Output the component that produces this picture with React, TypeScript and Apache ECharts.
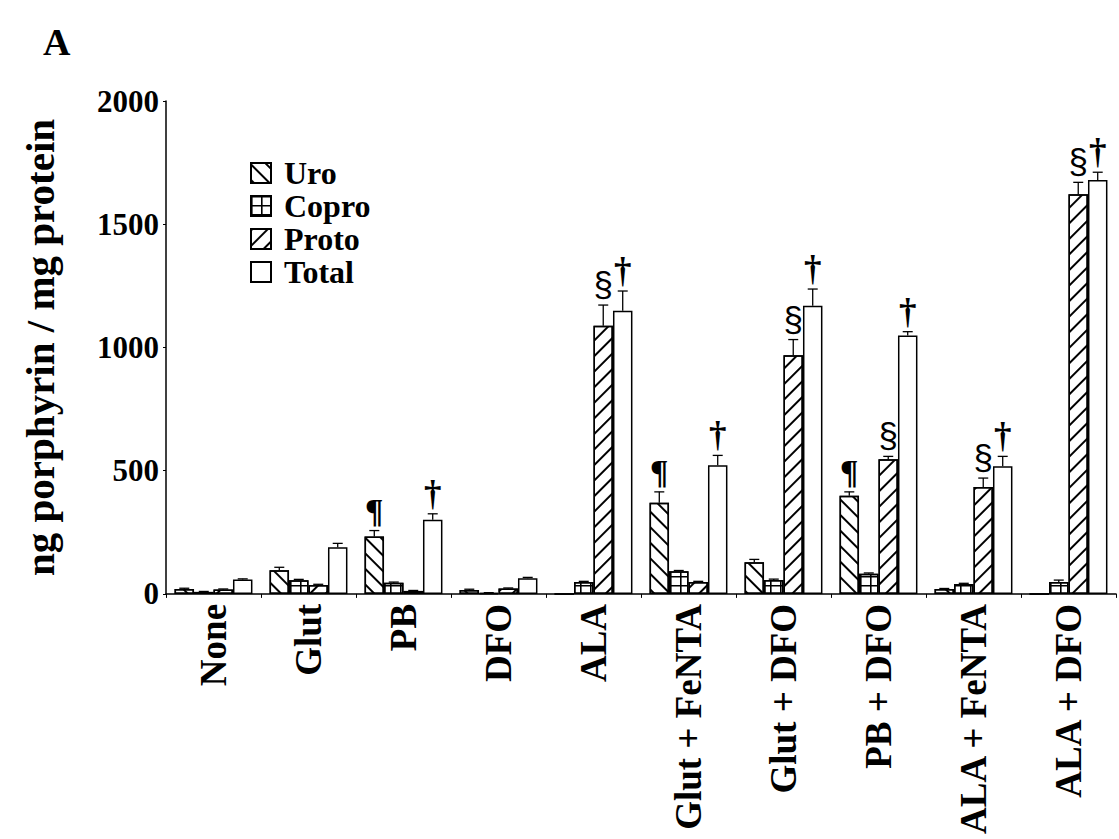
import React, { useEffect, useRef } from "react";
import * as echarts from "echarts";

const categories = [
  "None",
  "Glut",
  "PB",
  "DFO",
  "ALA",
  "Glut + FeNTA",
  "Glut + DFO",
  "PB + DFO",
  "ALA + FeNTA",
  "ALA + DFO",
];
const seriesNames = ["Uro", "Copro", "Proto", "Total"];

const uro = [20, 96, 233, 16, 0, 370, 128, 398, 20, 0];
const copro = [8, 55, 45, 4, 48, 92, 56, 82, 40, 48];
const proto = [18, 36, 12, 22, 1088, 48, 968, 546, 434, 1622];
const total = [58, 189, 301, 64, 1149, 522, 1169, 1048, 518, 1679];

const uroErr = [3, 12, 24, 3, 0, 44, 12, 16, 2, 0];
const coproErr = [2, 4, 3, 1, 3, 3, 4, 3, 3, 8];
const protoErr = [2, 3, 2, 2, 84, 3, 64, 12, 36, 48];
const totalErr = [3, 16, 24, 3, 80, 40, 68, 16, 40, 32];

const uroMarks = ["", "", "¶", "", "", "¶", "", "¶", "", ""];
const coproMarks = ["", "", "", "", "", "", "", "", "", ""];
const protoMarks = ["", "", "", "", "§", "", "§", "§", "§", "§"];
const totalMarks = ["", "", "†", "", "†", "†", "†", "†", "†", "†"];

const values = [uro, copro, proto, total];
const errs = [uroErr, coproErr, protoErr, totalErr];
const marks = [uroMarks, coproMarks, protoMarks, totalMarks];

const GAP = 0.18;
const SERIF = '"Liberation Serif", "Times New Roman", serif';
const SANS = '"Liberation Sans", Arial, sans-serif';

const decals: any[] = [
  {
    symbol: "rect",
    symbolSize: 1,
    dashArrayX: [1, 0],
    dashArrayY: [2, 9],
    rotation: Math.PI / 4,
    color: "#000",
  },
  {
    symbol: "path://M0,0H10V1.6H1.6V10H0Z",
    symbolSize: 1,
    symbolKeepAspect: false,
    dashArrayX: [9.5, 0],
    dashArrayY: [9, 0],
    rotation: 0,
    color: "#000",
  },
  {
    symbol: "rect",
    symbolSize: 1,
    dashArrayX: [1, 0],
    dashArrayY: [2, 9],
    rotation: -Math.PI / 4,
    color: "#000",
  },
  null,
];

export default function App() {
  const ref = useRef<HTMLDivElement>(null);
  useEffect(() => {
    if (!ref.current) return;
    const chart = echarts.init(ref.current, null, { renderer: "svg" });

    const errData: any[] = [];
    const errMarks: string[] = [];
    for (let s = 0; s < 4; s++) {
      for (let c = 0; c < categories.length; c++) {
        errData.push([c, s, values[s][c], errs[s][c]]);
        errMarks.push(marks[s][c]);
      }
    }

    const barSeries = seriesNames.map((name, i) => {
      const itemStyle: any = {
        color: "#fff",
        borderColor: "#000",
        borderWidth: 1.5,
      };
      if (decals[i]) itemStyle.decal = decals[i];
      return {
        type: "bar",
        name,
        data: values[i],
        barGap: "0%",
        barCategoryGap: GAP * 100 + "%",
        itemStyle,
        silent: true,
      };
    });

    const option: any = {
      animation: false,
      backgroundColor: "#fff",
      title: {
        text: "A",
        left: 38,
        top: 18,
        textStyle: { fontFamily: SERIF, fontWeight: "bold", fontSize: 38, color: "#000" },
      },
      legend: {
        data: seriesNames,
        orient: "vertical",
        left: 245,
        top: 152,
        itemWidth: 20,
        itemHeight: 20,
        itemGap: 1,
        icon: "rect",
        selectedMode: false,
        textStyle: {
          fontFamily: SERIF,
          fontWeight: "bold",
          fontSize: 32,
          color: "#000",
          padding: [0, 0, 0, 8],
          lineHeight: 32,
        },
      },
      grid: { left: 166, right: 3, top: 101, bottom: 240, containLabel: false },
      xAxis: {
        type: "category",
        data: categories,
        axisLine: { lineStyle: { color: "#000", width: 1.5 } },
        axisTick: { show: true, length: 4, lineStyle: { color: "#000" } },
        axisLabel: {
          interval: 0,
          rotate: 90,
          margin: 10,
          fontFamily: SERIF,
          fontWeight: "bold",
          fontSize: 37,
          color: "#000",
        },
      },
      yAxis: {
        type: "value",
        min: 0,
        max: 2000,
        interval: 500,
        name: "ng porphyrin / mg protein",
        nameLocation: "middle",
        nameGap: 106,
        nameTextStyle: { fontFamily: SERIF, fontWeight: "bold", fontSize: 41, color: "#000" },
        axisLine: { show: true, lineStyle: { color: "#000", width: 1.5 } },
        axisTick: { show: true, length: 3, lineStyle: { color: "#000" } },
        splitLine: { show: false },
        axisLabel: {
          margin: 7,
          fontFamily: SERIF,
          fontWeight: "bold",
          fontSize: 31,
          color: "#000",
          formatter: (v: number) => String(v),
        },
      },
      series: [
        ...barSeries,
        {
          type: "custom",
          name: "err",
          silent: true,
          z: 5,
          encode: { x: 0, y: 2 },
          data: errData,
          renderItem: (params: any, api: any) => {
            const ci = api.value(0);
            const si = api.value(1);
            const v = api.value(2);
            const e = api.value(3);
            const mark = errMarks[params.dataIndex];
            const band = api.size([1, 0])[0];
            const bw = (band * (1 - GAP)) / 4;
            const base = api.coord([ci, v]);
            const top = api.coord([ci, v + e]);
            const x = base[0] + (si - 1.5) * bw;
            const children: any[] = [];
            if (e > 0) {
              children.push({
                type: "line",
                shape: { x1: x, y1: base[1], x2: x, y2: top[1] },
                style: { stroke: "#000", lineWidth: 1.3 },
              });
              children.push({
                type: "line",
                shape: { x1: x - 5, y1: top[1], x2: x + 5, y2: top[1] },
                style: { stroke: "#000", lineWidth: 1.3 },
              });
            }
            if (mark) {
              let font = `bold 34px ${SERIF}`;
              if (mark === "§") font = `35px ${SANS}`;
              if (mark === "†") font = `bold 35px ${SERIF}`;
              children.push({
                type: "text",
                x,
                y: top[1] - 3,
                style: {
                  text: mark,
                  font,
                  fill: "#000",
                  align: "center",
                  verticalAlign: "bottom",
                },
              });
            }
            return { type: "group", children };
          },
        },
      ],
    };
    chart.setOption(option);
    return () => chart.dispose();
  }, []);
  return (
    <div
      ref={ref}
      style={{ position: "fixed", left: 0, top: 0, width: 1119, height: 839, background: "#fff" }}
    />
  );
}
